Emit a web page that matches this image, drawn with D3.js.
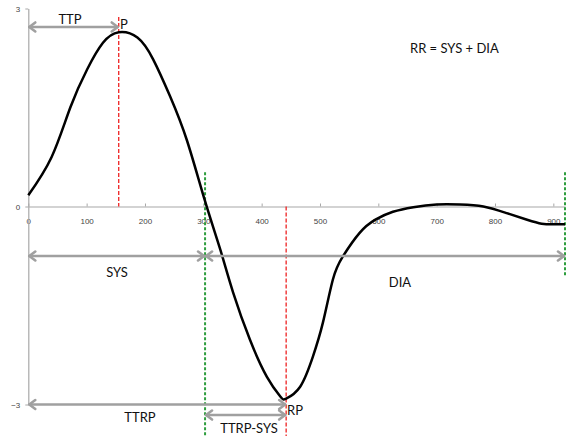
<!DOCTYPE html>
<html>
<head>
<meta charset="utf-8">
<script src="https://cdn.jsdelivr.net/npm/d3@7"></script>
<style>
  html, body { margin: 0; padding: 0; background: #fff; }
  svg { display: block; }
  .lbl { font-family: Lato, "Open Sans", sans-serif; font-size: 13px; fill: #111; }
</style>
</head>
<body>
<svg id="chart" width="573" height="436"></svg>
<script>
// Pressure waveform over one cardiac cycle (time in ms, amplitude in arbitrary units)
const times  = [0, 40, 72, 101, 128, 155, 187, 214, 243, 272, 303, 329, 351, 380, 409, 432, 442, 466, 488, 505, 522, 539, 568, 595, 625, 660, 700, 740, 780, 820, 855, 880, 900, 920];
const values = [0.17, 0.75, 1.5, 2.08, 2.48, 2.64, 2.56, 2.23, 1.67, 1.0, 0.08, -0.65, -1.3, -2.02, -2.58, -2.88, -2.91, -2.73, -2.27, -1.76, -1.11, -0.76, -0.4, -0.2, -0.08, -0.01, 0.03, 0.03, 0.0, -0.1, -0.2, -0.26, -0.27, -0.27];

const xTicks = [0, 100, 200, 300, 400, 500, 600, 700, 800, 900];
const yTicks = [-3, 0, 3];

// Event markers (ms)
const peakTime = 155;      // P
const troughTime = 442;    // RP
const sysEnd = 303;        // end of systole
const cycleEnd = 920;      // end of diastole

// Interval arrows: start, end, vertical level (amplitude units)
const intervals = [
  { name: "TTP",      from: 0,      to: peakTime,   level: 2.72 },
  { name: "SYS",      from: 0,      to: sysEnd,     level: -0.75 },
  { name: "DIA",      from: sysEnd, to: cycleEnd,   level: -0.75 },
  { name: "TTRP",     from: 0,      to: troughTime, level: -3.0 },
  { name: "TTRP-SYS", from: sysEnd, to: troughTime, level: -3.16 }
];

const svg = d3.select("#chart");
const x = d3.scaleLinear().domain([0, 920]).range([28.3, 565]);
const y = d3.scaleLinear().domain([-3, 3]).range([404.5, 8.5]);

// Axes
const axisColor = "#a8a8a8";
const gx = svg.append("g").attr("transform", `translate(0,${y(0)})`)
  .call(d3.axisBottom(x).tickValues(xTicks).tickSizeInner(-3).tickSizeOuter(0).tickPadding(12));
const gy = svg.append("g").attr("transform", `translate(${x(0)},0)`)
  .call(d3.axisLeft(y).tickValues(yTicks).tickFormat(d3.format("d")).tickSizeInner(3).tickSizeOuter(0).tickPadding(5));
[gx, gy].forEach(g => {
  g.select(".domain").attr("stroke", axisColor).attr("stroke-width", 1.2);
  g.selectAll(".tick line").attr("stroke", axisColor);
  g.selectAll(".tick text").attr("fill", "#444").style("font-family", "Liberation Sans, Arial, sans-serif").style("font-size", "8px");
});

// Vertical event markers
const markers = [
  { t: peakTime,   y1: 2.87, y2: 0,     color: "#ee2222", dash: "4,2", w: 1.3 },
  { t: troughTime, y1: 0,    y2: -3.5,  color: "#ee2222", dash: "4,2", w: 1.3 },
  { t: sysEnd,     y1: 0.52, y2: -3.5,  color: "#2e9e3e", dash: "3,2", w: 2 },
  { t: cycleEnd,   y1: 0.52, y2: -1.06, color: "#2e9e3e", dash: "3,2", w: 2 }
];
svg.append("g").selectAll("line").data(markers).join("line")
  .attr("x1", d => x(d.t)).attr("x2", d => x(d.t))
  .attr("y1", d => y(d.y1)).attr("y2", d => y(d.y2))
  .attr("stroke", d => d.color).attr("stroke-width", d => d.w)
  .attr("stroke-dasharray", d => d.dash);

// Waveform
const pts = times.map((t, i) => [t, values[i]]);
svg.append("path").datum(pts)
  .attr("fill", "none").attr("stroke", "#000").attr("stroke-width", 2.5)
  .attr("d", d3.line().x(d => x(d[0])).y(d => y(d[1])).curve(d3.curveNatural));

// Double-headed interval arrows
const arrowColor = "#a0a0a0";
const ag = svg.append("g").attr("fill", "none").attr("stroke", arrowColor)
  .attr("stroke-width", 2.6).attr("stroke-linecap", "round").attr("stroke-linejoin", "round");
intervals.forEach(d => {
  const x1 = x(d.from), x2 = x(d.to), yy = y(d.level);
  ag.append("line").attr("x1", x1 + 1).attr("x2", x2 - 1).attr("y1", yy).attr("y2", yy);
  ag.append("path").attr("d", `M${x1 + 7},${yy - 4.5}L${x1 + 1},${yy}L${x1 + 7},${yy + 4.5}`);
  ag.append("path").attr("d", `M${x2 - 7},${yy - 4.5}L${x2 - 1},${yy}L${x2 - 7},${yy + 4.5}`);
});

// Text labels
const labels = [
  { text: "TTP",      x: 70,  y: 24,  anchor: "middle" },
  { text: "P",        x: 120, y: 29,  anchor: "start" },
  { text: "SYS",      x: 117, y: 277, anchor: "middle" },
  { text: "DIA",      x: 400, y: 287, anchor: "middle" },
  { text: "TTRP",     x: 140, y: 422, anchor: "middle" },
  { text: "TTRP-SYS", x: 249, y: 433, anchor: "middle" },
  { text: "RP",       x: 287, y: 415, anchor: "start" },
  { text: "RR = SYS + DIA", x: 410, y: 53, anchor: "start" }
];
svg.append("g").selectAll("text").data(labels).join("text")
  .attr("class", "lbl")
  .attr("x", d => d.x).attr("y", d => d.y)
  .attr("text-anchor", d => d.anchor)
  .text(d => d.text);
</script>
</body>
</html>
